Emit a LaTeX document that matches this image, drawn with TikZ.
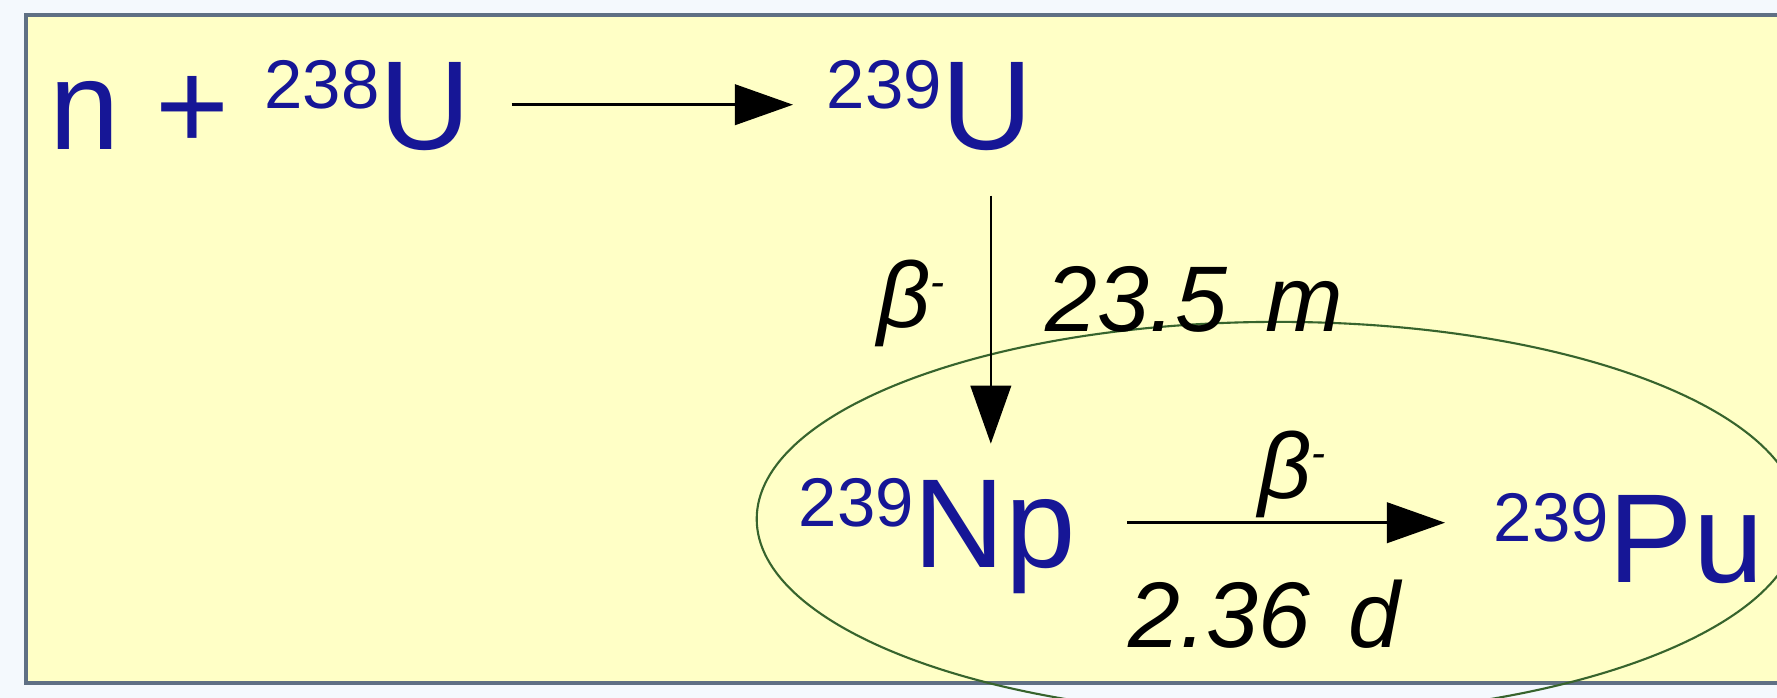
\documentclass[tikz,border=0pt]{standalone}
\usepackage{fontspec}
\setmainfont{Liberation Sans}
\usetikzlibrary{arrows.meta}
\definecolor{bgout}{RGB}{244,249,253}
\definecolor{boxfill}{RGB}{255,255,198}
\definecolor{boxline}{RGB}{95,112,132}
\definecolor{nucl}{RGB}{22,22,150}
\definecolor{ellcol}{RGB}{55,100,45}
\newcommand\myiso[2]{\raisebox{11.8pt}{\fontsize{19.6}{20}\selectfont #1}#2}
\newcommand\betaminus{β\raisebox{9pt}{\fontsize{12}{12}\selectfont -}}
\begin{document}
\begin{tikzpicture}[x=0.01cm,y=-0.01cm,
  nuc/.style={inner sep=0pt, anchor=base west, text=nucl, font=\fontsize{36}{40}\selectfont, text height=25.75pt, text depth=0pt},
  lab/.style={inner sep=0pt, anchor=base west, font=\fontsize{26.5}{30}\selectfont\itshape},
  arr/.style={draw=black, line width=0.72pt, -{Triangle[length=16.5pt,width=11.5pt]}}]
\useasboundingbox (0,0) rectangle (1777,698);
\clip (0,0) rectangle (1777,698);
\fill[bgout] (0,0) rectangle (1777,698);
\draw[draw=boxline, fill=boxfill, line width=0.9pt] (26,15) rectangle (1820,683);
\draw[ellcol, line width=0.6pt] (1278,519) ellipse [x radius=5.21cm, y radius=1.97cm];
\node[nuc] (a) at (49,150) {n + \myiso{238}{U}};
\node[nuc] (b) at (826,150) {\myiso{239}{U}};
\node[nuc] (c) at (798,568) {\myiso{239}{Np}};
\node[nuc] (d) at (1493,583) {\myiso{239}{Pu}};
\draw[arr, shorten <=0.40cm, shorten >=0.33cm] (a.east) -- (b.west);
\draw[arr, shorten <=0.45cm, shorten >=0.33cm] ([xshift=-0.43cm]b.south east) -- ([xshift=-0.43cm]b.south east |- c.north);
\draw[arr, shorten <=0.51cm, shorten >=0.48cm] (c.east) -- (c.east -| d.west);
\node[lab] (bl1) at (877,328) {\betaminus};
\node[lab] (hl1) at (1045,332) {23.5\hspace{0.41em}m};
\node[lab] (bl2) at (1258,499) {\betaminus};
\node[lab] (hl2) at (1128,647) {2.36\hspace{0.41em}d};
\end{tikzpicture}
\end{document}
